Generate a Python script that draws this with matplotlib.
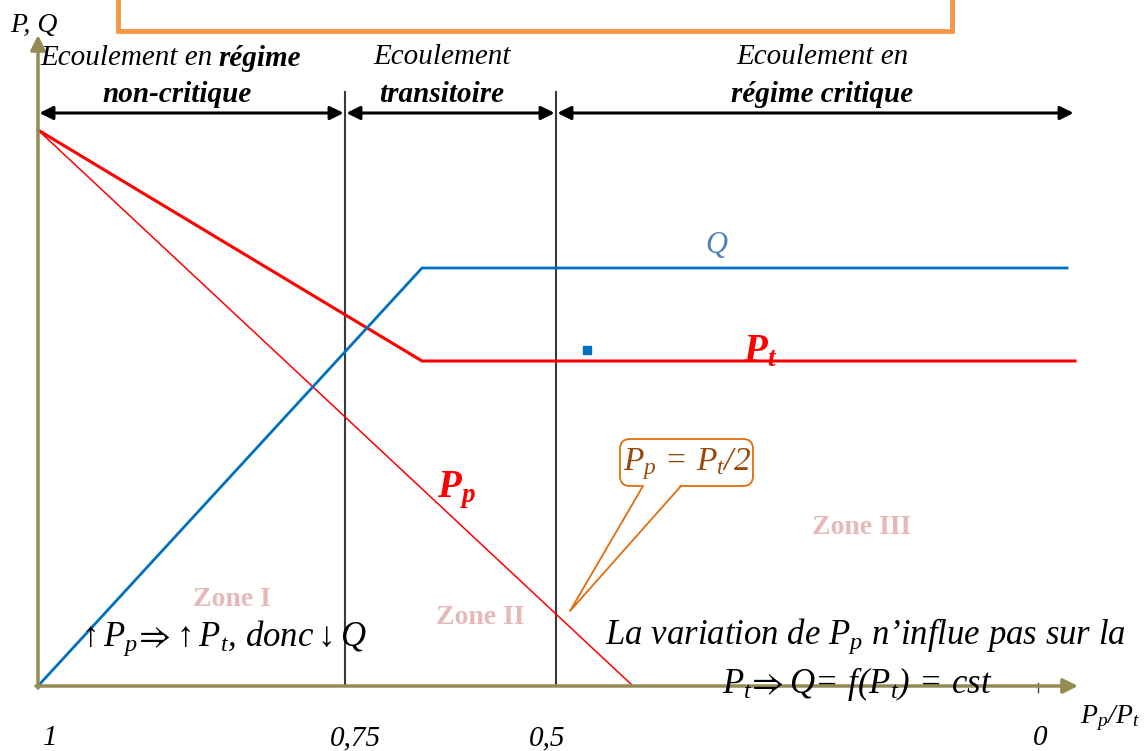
import matplotlib
matplotlib.use("Agg")
import matplotlib.pyplot as plt
from matplotlib.patches import FancyBboxPatch, Polygon, Rectangle

plt.rcParams["font.family"] = ["Liberation Serif", "DejaVu Serif"]
plt.rcParams["mathtext.fontset"] = "custom"
plt.rcParams["mathtext.rm"] = "Liberation Serif:italic"
plt.rcParams["mathtext.it"] = "Liberation Serif:italic"
plt.rcParams["mathtext.bf"] = "Liberation Serif:bold:italic"
plt.rcParams["mathtext.fallback"] = "stix"

# schematic units (diagram drawn on a 1146 x 751 canvas, y downwards)
pt_x = [38, 422, 1075]
pt_y = [130, 361, 361]
pp_x = [38, 633]
pp_y = [130, 686]
q_x = [38, 422, 1067]
q_y = [686, 268, 268]

tick_pos = [50, 355, 547, 1040]
tick_labels = ["1", "0,75", "0,5", "0"]

bounds = [38, 345, 556, 1075]  # zone limits on the axis
zone_names = ["Zone I", "Zone II", "Zone III"]
zone_pos = [(232, 600), (480, 617), (862, 528)]

OLIVE = "#948A54"
RED = "#FF0000"
BLUE = "#0070C0"
ORANGE = "#E46C0A"


def main():
    fig = plt.figure(figsize=(11.46, 7.51), dpi=100)
    ax = fig.add_axes([0, 0, 1, 1])
    ax.set_xlim(0, 1146)
    ax.set_ylim(751, 0)
    ax.axis("off")

    # orange frame cut at the top
    ax.add_patch(Rectangle((118, -20), 834, 51, fill=False,
                           edgecolor="#F79646", lw=3.5))

    # axes
    ax.annotate("", xy=(38, 35), xytext=(38, 688),
                arrowprops=dict(arrowstyle="-|>", color=OLIVE, lw=2.5,
                                mutation_scale=22, shrinkA=0, shrinkB=0))
    ax.annotate("", xy=(1078, 686), xytext=(36, 686),
                arrowprops=dict(arrowstyle="-|>", color=OLIVE, lw=2.5,
                                mutation_scale=22, shrinkA=0, shrinkB=0))
    ax.plot([1038, 1038], [683, 692], color="#404040", lw=1)
    ax.text(10, 25, "P, Q", fontsize=20, style="italic", va="center")
    ax.text(1080, 718, r"$P_p/P_t$", fontsize=20, va="center")
    for x, lab in zip(tick_pos, tick_labels):
        ax.text(x, 738, lab, fontsize=21, style="italic", ha="center", va="center")

    # regime limits and double arrows
    for x in bounds[1:3]:
        ax.plot([x, x], [92, 686], color="#3a3a3a", lw=1.5)
    for a, b in zip(bounds[:-1], bounds[1:]):
        ax.annotate("", xy=(a, 113), xytext=(b, 113),
                    arrowprops=dict(arrowstyle="<|-|>", color="black", lw=2.2,
                                    mutation_scale=20, shrinkA=1, shrinkB=1))

    fs = 21
    ax.text(213, 58, "Ecoulement en", fontsize=fs, style="italic", ha="right", va="center")
    ax.text(218, 58, "régime", fontsize=fs, style="italic", weight="bold", ha="left", va="center")
    ax.text(177, 95, "non-critique", fontsize=fs, style="italic", weight="bold", ha="center", va="center")
    ax.text(442, 57, "Ecoulement", fontsize=fs, style="italic", ha="center", va="center")
    ax.text(442, 95, "transitoire", fontsize=fs, style="italic", weight="bold", ha="center", va="center")
    ax.text(822, 57, "Ecoulement en", fontsize=fs, style="italic", ha="center", va="center")
    ax.text(822, 95, "régime critique", fontsize=fs, style="italic", weight="bold", ha="center", va="center")

    # curves
    ax.plot(pp_x, pp_y, color=RED, lw=1.1)
    ax.plot(pt_x, pt_y, color=RED, lw=2.2)
    ax.plot(q_x, q_y, color=BLUE, lw=2.0)
    ax.plot([587], [350], marker="s", color=BLUE, ms=6)

    ax.text(716, 245, "Q", fontsize=22, style="italic", color="#4F81BD", ha="center", va="center")
    ax.text(760, 352, r"$\mathbf{P_t}$", fontsize=28, color=RED, ha="center", va="center")
    ax.text(456, 490, r"$\mathbf{P_p}$", fontsize=28, color=RED, ha="center", va="center")

    # callout
    ax.add_patch(FancyBboxPatch((620, 439), 133, 47, boxstyle="round,pad=0,rounding_size=10",
                                facecolor="white", edgecolor=ORANGE, lw=1.3))
    ax.add_patch(Polygon([(643, 484), (570, 611), (681, 484)], closed=False,
                         facecolor="white", edgecolor="none"))
    ax.plot([643, 570, 681], [486, 611, 486], color=ORANGE, lw=1.3)
    ax.text(687, 464, r"$P_p\,=\,P_t/2$", fontsize=24, color="#984807", ha="center", va="center")

    for name, (x, y) in zip(zone_names, zone_pos):
        ax.text(x, y, name, fontsize=20, weight="bold", color="#E6B9B8",
                ha="center", va="center")

    ax.text(76, 638, r"$\uparrow P_p\!\Rightarrow\!\uparrow P_t$, donc$\downarrow Q$",
            fontsize=25, style="italic", va="center")
    ax.text(605, 636, r"La variation de $P_p$ n’influe pas sur la",
            fontsize=25, style="italic", va="center")
    ax.text(722, 684, r"$P_t\!\Rightarrow Q\!=\,f(P_t)\,=\,cst$",
            fontsize=25, va="center")

    fig.savefig("out.png", dpi=100)


if __name__ == "__main__":
    main()
